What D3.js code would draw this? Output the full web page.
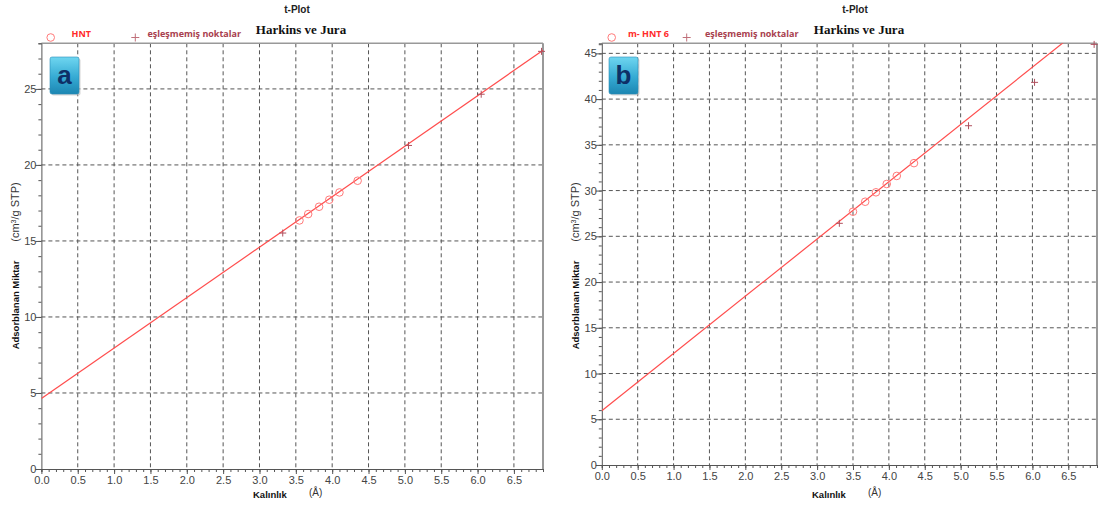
<!DOCTYPE html>
<html>
<head>
<meta charset="utf-8">
<script src="https://cdn.jsdelivr.net/npm/d3@7"></script>
<style>
  body { margin: 0; background: #fff; }
  svg { display: block; font-family: Arial, "Liberation Sans", sans-serif; }
  .tick-label { font-size: 11px; fill: #444; }
  .title { font-size: 10px; font-weight: bold; fill: #222; }
  .subtitle { font-family: "Liberation Serif", "DejaVu Serif", serif; font-size: 13px; font-weight: bold; fill: #111; }
</style>
</head>
<body>
<div id="chart"></div>
<script>
const frame_width = 1099;
const frame_height = 507;

// shared axes
const x_ticks = [0, 0.5, 1, 1.5, 2, 2.5, 3, 3.5, 4, 4.5, 5, 5.5, 6, 6.5];
const y_ticks_a = [0, 5, 10, 15, 20, 25];
const y_ticks_b = [0, 5, 10, 15, 20, 25, 30, 35, 40, 45];

// panel a (HNT)
const hnt_a_x = [3.55, 3.67, 3.82, 3.96, 4.10, 4.35];
const hnt_a_y = [16.35, 16.77, 17.25, 17.71, 18.19, 18.96];
const unmatched_a_x = [3.32, 5.05, 6.05, 6.88];
const unmatched_a_y = [15.52, 21.28, 24.65, 27.47];
const fit_a_x = [0, 6.9];
const fit_a_y = [4.63, 27.54];

// panel b (m- HNT 6)
const hnt_b_x = [3.50, 3.67, 3.82, 3.97, 4.11, 4.35];
const hnt_b_y = [27.69, 28.78, 29.81, 30.72, 31.60, 33.00];
const unmatched_b_x = [3.31, 5.11, 6.03, 6.86];
const unmatched_b_y = [26.42, 37.09, 41.83, 45.98];
const fit_b_x = [0, 6.9];
const fit_b_y = [5.93, 49.12];

const svg = d3.select("#chart")
    .append("svg")
        .attr("width", frame_width)
        .attr("height", frame_height);

const defs = svg.append("defs");
const grad = defs.append("linearGradient")
    .attr("id", "badge")
    .attr("x1", 0).attr("y1", 0).attr("x2", 0).attr("y2", 1);
grad.append("stop").attr("offset", "0%").attr("stop-color", "#6fd6f0");
grad.append("stop").attr("offset", "55%").attr("stop-color", "#35aad3");
grad.append("stop").attr("offset", "100%").attr("stop-color", "#1c86b2");

function drawPanel(p) {
    const X_SCALE = d3.scaleLinear()
        .domain([0, p.xmax])
        .range([p.left, p.right]);
    const Y_SCALE = d3.scaleLinear()
        .domain([0, p.ymax])
        .range([p.bottom, p.top]);

    const g = svg.append("g");

    defs.append("clipPath").attr("id", "clip" + p.id)
        .append("rect")
            .attr("x", p.left).attr("y", p.top)
            .attr("width", p.right - p.left).attr("height", p.bottom - p.top);

    // grid
    g.selectAll(".vgrid")
        .data(x_ticks.slice(1))
        .enter()
        .append("line")
            .attr("x1", (d) => X_SCALE(d)).attr("x2", (d) => X_SCALE(d))
            .attr("y1", p.top).attr("y2", p.bottom)
            .attr("stroke", "#555").attr("stroke-width", 1)
            .attr("stroke-dasharray", "4,3");
    g.selectAll(".hgrid")
        .data(p.yticks.slice(1))
        .enter()
        .append("line")
            .attr("x1", p.left).attr("x2", p.right)
            .attr("y1", (d) => Y_SCALE(d)).attr("y2", (d) => Y_SCALE(d))
            .attr("stroke", "#555").attr("stroke-width", 1)
            .attr("stroke-dasharray", "4,3");

    // frame top / right
    g.append("line")
        .attr("x1", p.left).attr("x2", p.right)
        .attr("y1", p.top).attr("y2", p.top)
        .attr("stroke", "#999").attr("stroke-width", 1.5);
    g.append("line")
        .attr("x1", p.right).attr("x2", p.right)
        .attr("y1", p.top).attr("y2", p.bottom)
        .attr("stroke", "#999").attr("stroke-width", 2);

    // x axis
    const xAxis = g.append("g")
        .attr("transform", "translate(0," + p.bottom + ")")
        .call(d3.axisBottom(X_SCALE).tickValues(d3.range(0, p.xmax + 0.001, 0.1)).tickSize(3).tickFormat(""));
    xAxis.select(".domain").attr("stroke", "#555");
    xAxis.selectAll("line").attr("stroke", "#555");
    const xMajor = g.append("g")
        .attr("transform", "translate(0," + p.bottom + ")")
        .call(d3.axisBottom(X_SCALE).tickValues(x_ticks).tickSize(5).tickFormat(d3.format(".1f")));
    xMajor.select(".domain").remove();
    xMajor.selectAll("line").attr("stroke", "#555");
    xMajor.selectAll("text").attr("class", "tick-label").attr("dy", "0.6em").attr("fill", null);
    xMajor.attr("font-size", null).attr("font-family", null);

    // y axis
    const yAxis = g.append("g")
        .attr("transform", "translate(" + p.left + ",0)")
        .call(d3.axisLeft(Y_SCALE).tickValues(d3.range(0, Math.floor(p.ymax) + 1, 1)).tickSize(3).tickFormat(""));
    yAxis.select(".domain").attr("stroke", "#555");
    yAxis.selectAll("line").attr("stroke", "#555");
    const yMajor = g.append("g")
        .attr("transform", "translate(" + p.left + ",0)")
        .call(d3.axisLeft(Y_SCALE).tickValues(p.yticks).tickSize(6));
    yMajor.select(".domain").remove();
    yMajor.selectAll("line").attr("stroke", "#555");
    yMajor.selectAll("text").attr("class", "tick-label").attr("x", -5).attr("fill", null);
    yMajor.attr("font-size", null).attr("font-family", null);

    // fit line
    const line = d3.line()
        .x((d) => X_SCALE(d[0]))
        .y((d) => Y_SCALE(d[1]));
    g.append("path")
        .datum(d3.zip(p.fit_x, p.fit_y))
        .attr("clip-path", "url(#clip" + p.id + ")")
        .attr("d", line)
        .attr("fill", "none")
        .attr("stroke", "#ff4d4d")
        .attr("stroke-width", 1.2);

    // HNT circles
    g.selectAll(".pt")
        .data(d3.zip(p.hnt_x, p.hnt_y))
        .enter()
        .append("circle")
            .attr("cx", (d) => X_SCALE(d[0]))
            .attr("cy", (d) => Y_SCALE(d[1]))
            .attr("r", 3.8)
            .attr("fill", "none")
            .attr("stroke", "#ff7a7a")
            .attr("stroke-width", 1);

    // unmatched points
    g.selectAll(".um")
        .data(d3.zip(p.um_x, p.um_y))
        .enter()
        .append("path")
            .attr("transform", (d) => "translate(" + X_SCALE(d[0]) + "," + Y_SCALE(d[1]) + ")")
            .attr("d", "M-3.5,0H3.5M0,-3.5V3.5")
            .attr("stroke", "#b0505e")
            .attr("stroke-width", 1)
            .attr("fill", "none");

    // titles
    g.append("text").attr("class", "title")
        .attr("x", p.titleX).attr("y", 13).attr("text-anchor", "middle").text("t-Plot");
    g.append("text").attr("class", "subtitle")
        .attr("x", p.titleX + 4).attr("y", 34).attr("text-anchor", "middle").text("Harkins ve Jura");

    // legend
    g.append("circle").attr("cx", p.leg.cx).attr("cy", 37.5).attr("r", 3.8)
        .attr("fill", "none").attr("stroke", "#ff7a7a").attr("stroke-width", 1);
    g.append("text").attr("x", p.leg.tx).attr("y", 37)
        .attr("font-size", 9).attr("font-weight", "bold").attr("fill", "#ff2b2b")
        .attr("font-family", "'Open Sans', Arial, sans-serif")
        .text(p.name);
    g.append("path")
        .attr("transform", "translate(" + p.leg.px + ",37.5)")
        .attr("d", "M-4,0H4M0,-4V4")
        .attr("stroke", "#c0707a").attr("stroke-width", 1);
    g.append("text").attr("x", p.leg.ux).attr("y", 37)
        .attr("font-size", 9).attr("font-weight", "bold").attr("fill", "#a8404e")
        .attr("font-family", "'Open Sans', Arial, sans-serif")
        .text("eşleşmemiş noktalar");

    // badge
    g.append("rect")
        .attr("x", p.badgeX + 1.5).attr("y", 58.5)
        .attr("width", 29).attr("height", 37).attr("rx", 2)
        .attr("fill", "#bbb").attr("opacity", 0.6);
    g.append("rect")
        .attr("x", p.badgeX).attr("y", 57)
        .attr("width", 29).attr("height", 37).attr("rx", 2)
        .attr("fill", "url(#badge)").attr("stroke", "#2a8fb8").attr("stroke-width", 0.6);
    g.append("text")
        .attr("x", p.badgeX + 14.5).attr("y", 84)
        .attr("text-anchor", "middle")
        .attr("font-size", 26).attr("font-weight", "bold").attr("fill", "#0e2f66")
        .text(p.id);

    // axis titles
    const ycx = p.ylabelX;
    g.append("text")
        .attr("transform", "translate(" + ycx + "," + p.ylabel1 + ") rotate(-90)")
        .attr("text-anchor", "middle")
        .attr("font-size", 9.5).attr("font-weight", "bold").attr("fill", "#111")
        .text("Adsorblanan Miktar");
    const yl2 = g.append("text")
        .attr("transform", "translate(" + ycx + "," + p.ylabel2 + ") rotate(-90)")
        .attr("text-anchor", "middle")
        .attr("font-size", 11).attr("fill", "#333");
    yl2.append("tspan").text("(cm");
    yl2.append("tspan").attr("font-size", 7).attr("dy", -3).text("3");
    yl2.append("tspan").attr("dy", 3).text("/g STP)");

    g.append("text")
        .attr("x", p.xlabelX).attr("y", 498)
        .attr("font-size", 9.5).attr("font-weight", "bold").attr("fill", "#111")
        .text("Kalınlık");
    g.append("text")
        .attr("x", p.xlabelX + 56).attr("y", 496)
        .attr("font-size", 10).attr("fill", "#333")
        .text("(Å)");
}

drawPanel({
    id: "a", name: "HNT",
    left: 41.4, right: 543, top: 43.3, bottom: 469,
    xmax: 6.9, ymax: 28, yticks: y_ticks_a,
    hnt_x: hnt_a_x, hnt_y: hnt_a_y, um_x: unmatched_a_x, um_y: unmatched_a_y,
    fit_x: fit_a_x, fit_y: fit_a_y,
    titleX: 297, leg: {cx: 50.7, tx: 71.5, px: 135.3, ux: 147.5},
    badgeX: 50, ylabelX: 19, ylabel1: 305, ylabel2: 212, xlabelX: 253
});

drawPanel({
    id: "b", name: "m- HNT 6",
    left: 601.8, right: 1097, top: 43.3, bottom: 465,
    xmax: 6.9, ymax: 46.1, yticks: y_ticks_b,
    hnt_x: hnt_b_x, hnt_y: hnt_b_y, um_x: unmatched_b_x, um_y: unmatched_b_y,
    fit_x: fit_b_x, fit_y: fit_b_y,
    titleX: 855, leg: {cx: 611.7, tx: 628, px: 686.7, ux: 705},
    badgeX: 609, ylabelX: 579, ylabel1: 305, ylabel2: 212, xlabelX: 812
});
</script>
</body>
</html>
